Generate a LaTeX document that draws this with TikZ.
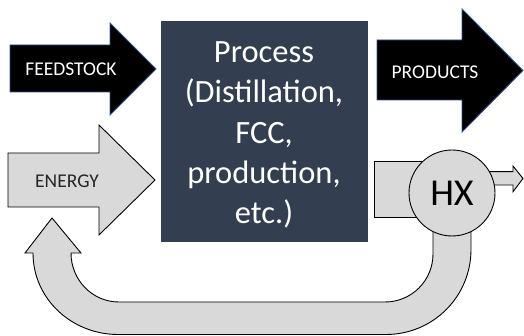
\documentclass[tikz,border=0pt]{standalone}
\usepackage{fontspec}
\setmainfont{Carlito}
\usetikzlibrary{positioning}
\definecolor{procblue}{HTML}{333F50}
\definecolor{edgeblue}{HTML}{2F528F}
\definecolor{lightgray}{HTML}{D9D9D9}

\begin{document}
\begin{tikzpicture}[x=1pt, y=1pt, line join=miter,
  darkarrow/.style={fill=black, draw=edgeblue, line width=0.9pt},
  lightarrow/.style={fill=lightgray, draw=black, line width=0.9pt},
  arrowtext/.style={font=\fontsize{19.5}{22}\selectfont, inner sep=0pt}]
  \useasboundingbox (0,0) rectangle (524,336);
  % feed and product streams
  \draw[darkarrow] (10,244) -- (110,244) -- (110,221) -- (156,267) -- (110,313) -- (110,291) -- (10,291) -- cycle;
  \draw[darkarrow] (377,236) -- (462,236) -- (462,204) -- (523,265.5) -- (462,327) -- (462,296) -- (377,296) -- cycle;
  \node[arrowtext, text=white] (feed) at (71,267) {FEEDSTOCK};
  \node[arrowtext, text=white] (prod) at (435,264) {PRODUCTS};
  % energy in
  \draw[lightarrow] (8,129) -- (99,129) -- (99,101) -- (155,156) -- (99,211) -- (99,183) -- (8,183) -- cycle;
  \node[arrowtext, text=black!85] (energy) at (67,155) {ENERGY};
  % process block
  \node[fill=procblue, draw=procblue, minimum width=206, minimum height=220, inner sep=0pt] (proc) at (264,205) {};
  \node[align=center, text=white, font=\fontsize{32.5}{40.2}\selectfont, inner sep=0pt] (proctext) at (264,201)
    {Process\\(Distillation,\\FCC,\\production,\\etc.)};
  % heat recovery loop
  \draw[lightarrow] (433,120) -- (433,82) to[out=-90,in=0] (385,34) -- (119,34) to[out=180,in=-90] (71,83)
    -- (81,83) -- (52,118) -- (25,83) -- (33,83) to[out=-90,in=180] (118,1.5) -- (386,1.5)
    to[out=0,in=-90] (471,86.5) -- (471,120) -- cycle;
  \draw[lightarrow] (374,119) rectangle (452,175);
  \draw[lightarrow] (480,151) -- (513,151) -- (513,144.3) -- (523,157.5) -- (513,170) -- (513,164.3) -- (480,164.3) -- cycle;
  \node[circle, lightarrow, minimum size=86, inner sep=0pt, font=\fontsize{38}{40}\selectfont] (hx) at (452,143) {HX};
\end{tikzpicture}
\end{document}
